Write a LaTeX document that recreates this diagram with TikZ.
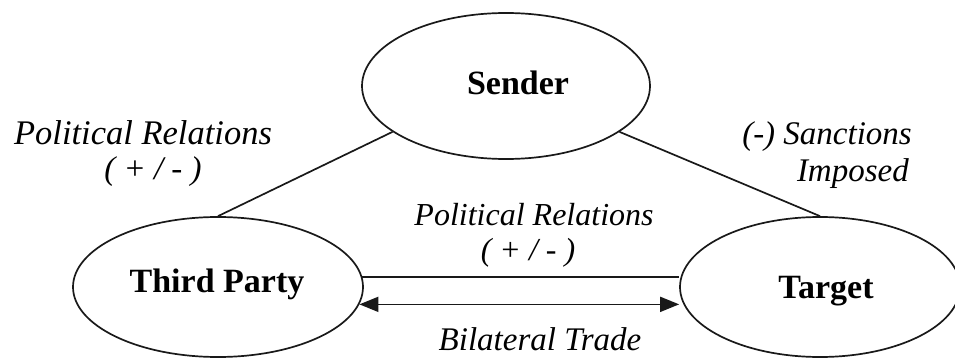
\documentclass[tikz,border=0pt]{standalone}
\usepackage{fontspec}
\setmainfont{Liberation Serif}
\usetikzlibrary{shapes.geometric,arrows.meta}
\begin{document}
\begin{tikzpicture}[x=1pt,y=-1pt,
  party/.style={ellipse, draw=black!90, line width=1.7pt, inner sep=0pt},
  conn/.style={draw=black!90, line width=1.7pt},
  tip/.style={Triangle[length=19pt,width=15pt]},
  bigbold/.style={font=\fontsize{34}{40}\selectfont\bfseries, anchor=base, inner sep=0pt},
  lab/.style={font=\fontsize{33}{40}\selectfont\itshape, anchor=base, inner sep=0pt},
  midlab/.style={font=\fontsize{32}{38}\selectfont\itshape, anchor=base, inner sep=0pt}]
\useasboundingbox (0,0) rectangle (955,358);
\clip (0,0) rectangle (955,358);
% ellipses
\node[party, minimum width=288pt, minimum height=146pt] (sender) at (506,86) {};
\node[party, minimum width=290pt, minimum height=140pt] (tp) at (218,287) {};
\node[party, minimum width=280pt, minimum height=140pt] (target) at (820,287) {};
% ellipse texts
\node[bigbold] (sendertxt) at (518,95) {Sender};
\node[bigbold] (tptxt) at (217,292) {Third Party};
\node[bigbold] (targettxt) at (826,298) {Target};
% connectors
\draw[conn] (sender.202) -- (tp.north);
\draw[conn] (sender.338.5) -- (target.north);
\draw[conn] (tp.4.5) -- (tp.4.5 -| target.west);
\draw[conn, {Triangle[length=19pt,width=15pt]}-{Triangle[length=19pt,width=15pt]}]
  (tp.-7) -- (tp.-7 -| target.west);
% labels
\node[lab, font=\fontsize{34.5}{40}\selectfont\itshape] (prl1) at (143,145) {Political Relations};
\node[lab] (prl2) at (153,180) {( + / - )};
\node[lab, anchor=base east] (sanc1) at (912,145) {(-) Sanctions};
\node[lab, anchor=base east] (sanc2) at (909,182) {Imposed};
\node[midlab] (prm1) at (534,225) {Political Relations};
\node[midlab] (prm2) at (528,260) {( + / - )};
\node[lab] (trade) at (540,350) {Bilateral Trade};
\end{tikzpicture}
\end{document}
